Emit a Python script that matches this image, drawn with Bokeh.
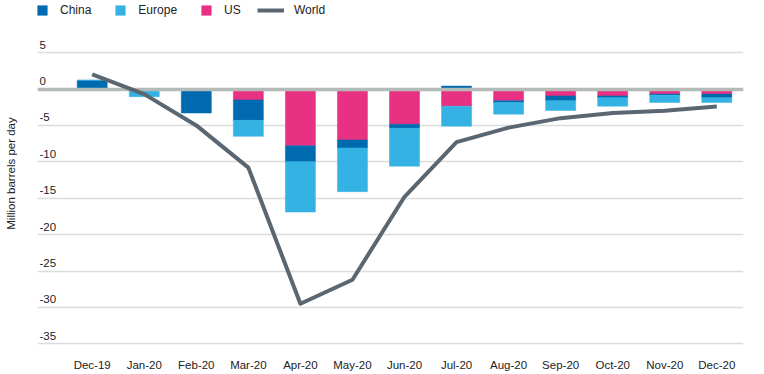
import numpy as np
from bokeh.plotting import figure
from bokeh.models import (Range1d, FixedTicker, Legend, LegendItem, ColumnDataSource)
from bokeh.core.properties import value
from bokeh.embed import file_html
from bokeh.resources import INLINE

months = ["Dec-19", "Jan-20", "Feb-20", "Mar-20", "Apr-20", "May-20", "Jun-20",
          "Jul-20", "Aug-20", "Sep-20", "Oct-20", "Nov-20", "Dec-20"]
china = [1.2, -0.05, -3.2, -2.8, -2.2, -1.1, -0.55, 0.4, -0.25, -0.65, -0.25, -0.15, -0.5]
europe = [0.0, -0.9, 0.0, -2.2, -6.9, -6.0, -5.2, -2.75, -1.6, -1.35, -1.15, -1.0, -0.65]
us = [0.0, -0.1, -0.1, -1.5, -7.8, -7.0, -4.85, -2.35, -1.6, -0.95, -0.95, -0.7, -0.7]
world = [2.0, -0.7, -5.0, -10.8, -29.5, -26.2, -14.8, -7.3, -5.3, -4.0, -3.3, -3.0, -2.4]
yticks = [5, 0, -5, -10, -15, -20, -25, -30, -35]

C_CHINA = "#006AB0"
C_EUROPE = "#34B2E4"
C_US = "#E83182"
C_WORLD = "#5A6772"
FONT = "Liberation Sans"
TXT = "#222222"

x = np.arange(len(months))

# stacking: US nearest zero, then China, then Europe (negatives); positives stacked upward
order = [("US", us, C_US), ("China", china, C_CHINA), ("Europe", europe, C_EUROPE)]
pos = np.zeros(len(months))
neg = np.zeros(len(months))
stacks = {}
for name, vals, col in order:
    v = np.array(vals, dtype=float)
    bottom = np.where(v >= 0, pos, neg)
    top = bottom + v
    pos = np.where(v >= 0, top, pos)
    neg = np.where(v < 0, top, neg)
    stacks[name] = (bottom, top, col)

x_range = Range1d(-1.051, 12.513)
y_range = Range1d(-35.37, 12.16)

W, H = 764, 374
FRAME_H = H - 28
p = figure(width=W, height=H, x_range=x_range, y_range=y_range,
           output_backend="svg", toolbar_location=None,
           min_border_left=37, min_border_right=21, min_border_top=0, min_border_bottom=28)
p.outline_line_color = None
p.background_fill_color = "white"

# grid
p.xgrid.visible = False
p.ygrid.ticker = FixedTicker(ticks=yticks)
p.ygrid.grid_line_color = "#DCDCDC"
p.ygrid.grid_line_width = 1.5

# x axis
p.xaxis.ticker = FixedTicker(ticks=list(x))
p.xaxis.major_label_overrides = {int(i): m for i, m in zip(x, months)}
p.xaxis.axis_line_color = None
p.xaxis.major_tick_line_color = None
p.xaxis.minor_tick_line_color = None
p.xaxis.major_tick_out = 0
p.xaxis.major_label_standoff = 12
p.xaxis.major_label_text_font = FONT
p.xaxis.major_label_text_font_size = "11.5px"
p.xaxis.major_label_text_color = TXT

# y axis: only the title
p.yaxis.ticker = FixedTicker(ticks=[])
p.yaxis.axis_line_color = None
p.yaxis.major_tick_line_color = None
p.yaxis.minor_tick_line_color = None
p.yaxis.major_tick_out = 0
p.yaxis.major_label_standoff = 0
p.yaxis.axis_label = "Million barrels per day"
p.yaxis.axis_label_text_font = FONT
p.yaxis.axis_label_text_font_size = "11.5px"
p.yaxis.axis_label_text_font_style = "normal"
p.yaxis.axis_label_text_color = TXT
p.yaxis.axis_label_standoff = 21

# y tick labels sitting above gridlines
p.text(x=[x_range.start] * len(yticks), y=yticks, text=[str(t) for t in yticks],
       x_offset=2, y_offset=-8, text_align="left", text_baseline="alphabetic",
       text_font=value(FONT), text_font_size="11.5px", text_color=TXT)

bar_w = 0.577
renderers = {}
for name in ["US", "China", "Europe"]:
    bottom, top, col = stacks[name]
    src = ColumnDataSource(dict(x=x, top=top, bottom=bottom))
    renderers[name] = p.vbar(x="x", top="top", bottom="bottom", width=bar_w, source=src,
                             fill_color=col, line_color=col, line_width=0.5)

p.hspan(y=[0], line_color="#B3BAB8", line_width=3.5)

wl = p.line(x=x, y=world, line_color=C_WORLD, line_width=4, line_join="round")

leg_y = FRAME_H - 5 - 12
leg1 = Legend(items=[LegendItem(label="China", renderers=[renderers["China"]]),
                     LegendItem(label="Europe", renderers=[renderers["Europe"]]),
                     LegendItem(label="US", renderers=[renderers["US"]])],
              orientation="horizontal", location=(-1, leg_y), glyph_width=12, glyph_height=12,
              label_standoff=12, spacing=23, padding=0, margin=0, border_line_color=None,
              background_fill_alpha=0, label_text_font=FONT, label_text_font_size="12px",
              label_text_color=TXT, label_height=12)
leg2 = Legend(items=[LegendItem(label="World", renderers=[wl])],
              orientation="horizontal", location=(220, leg_y), glyph_width=27, glyph_height=12,
              label_standoff=10, padding=0, margin=0, border_line_color=None,
              background_fill_alpha=0, label_text_font=FONT, label_text_font_size="12px",
              label_text_color=TXT, label_height=12)
p.add_layout(leg1)
p.add_layout(leg2)

open("out.html", "w").write(file_html(p, INLINE))
